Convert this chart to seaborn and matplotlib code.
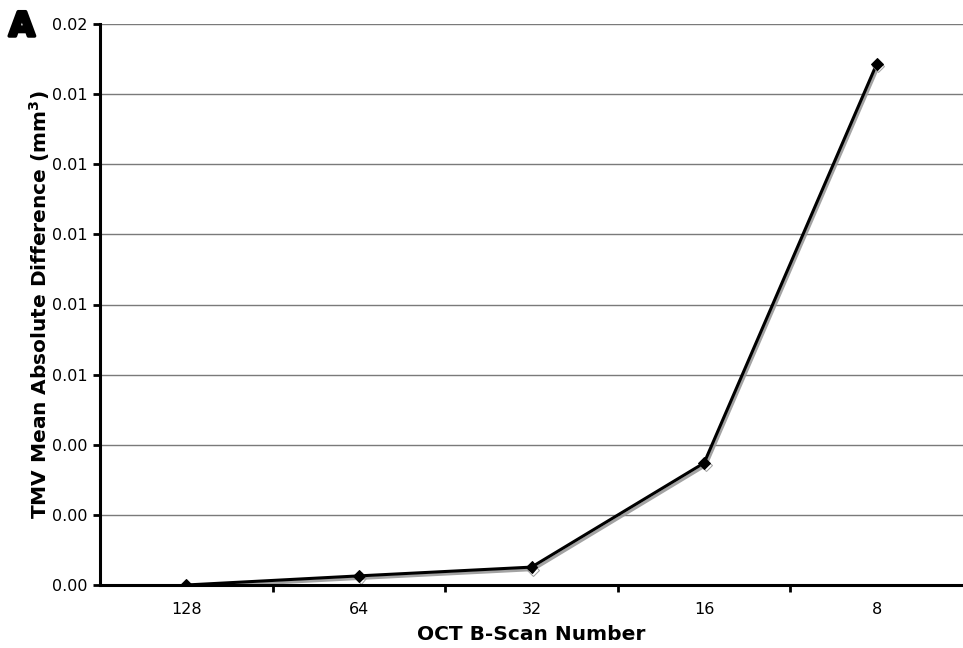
import numpy as np
import pandas as pd
import matplotlib
matplotlib.use("Agg")
import matplotlib.pyplot as plt
import matplotlib.patheffects as pe
from matplotlib.ticker import FixedLocator, FormatStrFormatter
import seaborn as sns

# values
bscan_labels = ["128", "64", "32", "16", "8"]
tmv_mad = [0.0, 0.00026, 0.00051, 0.00348, 0.01486]
y_ticks = [0.0, 0.002, 0.004, 0.006, 0.008, 0.010, 0.012, 0.014, 0.016]

df = pd.DataFrame({"pos": np.arange(len(bscan_labels)), "mad": tmv_mad})

sns.set_style("white")
plt.rcParams["font.family"] = ["DejaVu Sans"]
plt.rcParams.update({"text.color": "black", "axes.labelcolor": "black",
                     "xtick.color": "black", "ytick.color": "black"})

fig = plt.figure(figsize=(9.63, 6.48), dpi=100)
ax = fig.add_axes([100 / 963, 63 / 648, 863 / 963, 561 / 648])

sns.lineplot(
    data=df, x="pos", y="mad", ax=ax,
    color="black", linewidth=2.2, marker="D", markersize=6,
    markeredgecolor="black",
    path_effects=[pe.SimpleLineShadow(offset=(1.2, -1.8), shadow_color="#999999", alpha=0.9),
                  pe.Normal()],
)

ax.set_xlim(-0.5, len(bscan_labels) - 0.5)
ax.set_ylim(0, 0.016)
ax.yaxis.set_major_locator(FixedLocator(y_ticks))
ax.yaxis.set_major_formatter(FormatStrFormatter("%.2f"))
ax.set_xticks(df["pos"])
ax.set_xticklabels(bscan_labels)
ax.set_xticks(np.arange(0.5, len(bscan_labels) - 0.5, 1.0), minor=True)

ax.tick_params(axis="x", which="major", length=0, pad=12, labelsize=11.5)
ax.tick_params(axis="x", which="minor", length=5, width=2, direction="out", color="black", bottom=True)
ax.tick_params(axis="y", length=5, width=2, direction="out", color="black", left=True, labelsize=11.5, pad=4)

ax.yaxis.grid(True, color="#7a7a7a", linewidth=1)
ax.xaxis.grid(False)
ax.set_axisbelow(True)

for side in ["top", "right"]:
    ax.spines[side].set_visible(False)
for side in ["left", "bottom"]:
    ax.spines[side].set_color("black")
    ax.spines[side].set_linewidth(2.2)

ax.set_xlabel("OCT B-Scan Number", fontsize=14.5, fontweight="bold", labelpad=6)
ax.set_ylabel(r"TMV Mean Absolute Difference (mm$^\mathbf{3}$)", fontsize=14.5,
              fontweight="bold", labelpad=0)

fig.text(9 / 963, 1 - 36 / 648, "A", fontsize=24, fontweight="heavy", color="black",
         ha="left", va="baseline",
         path_effects=[pe.withStroke(linewidth=2.5, foreground="black")])

fig.savefig("out.png", dpi=100, facecolor="white")
